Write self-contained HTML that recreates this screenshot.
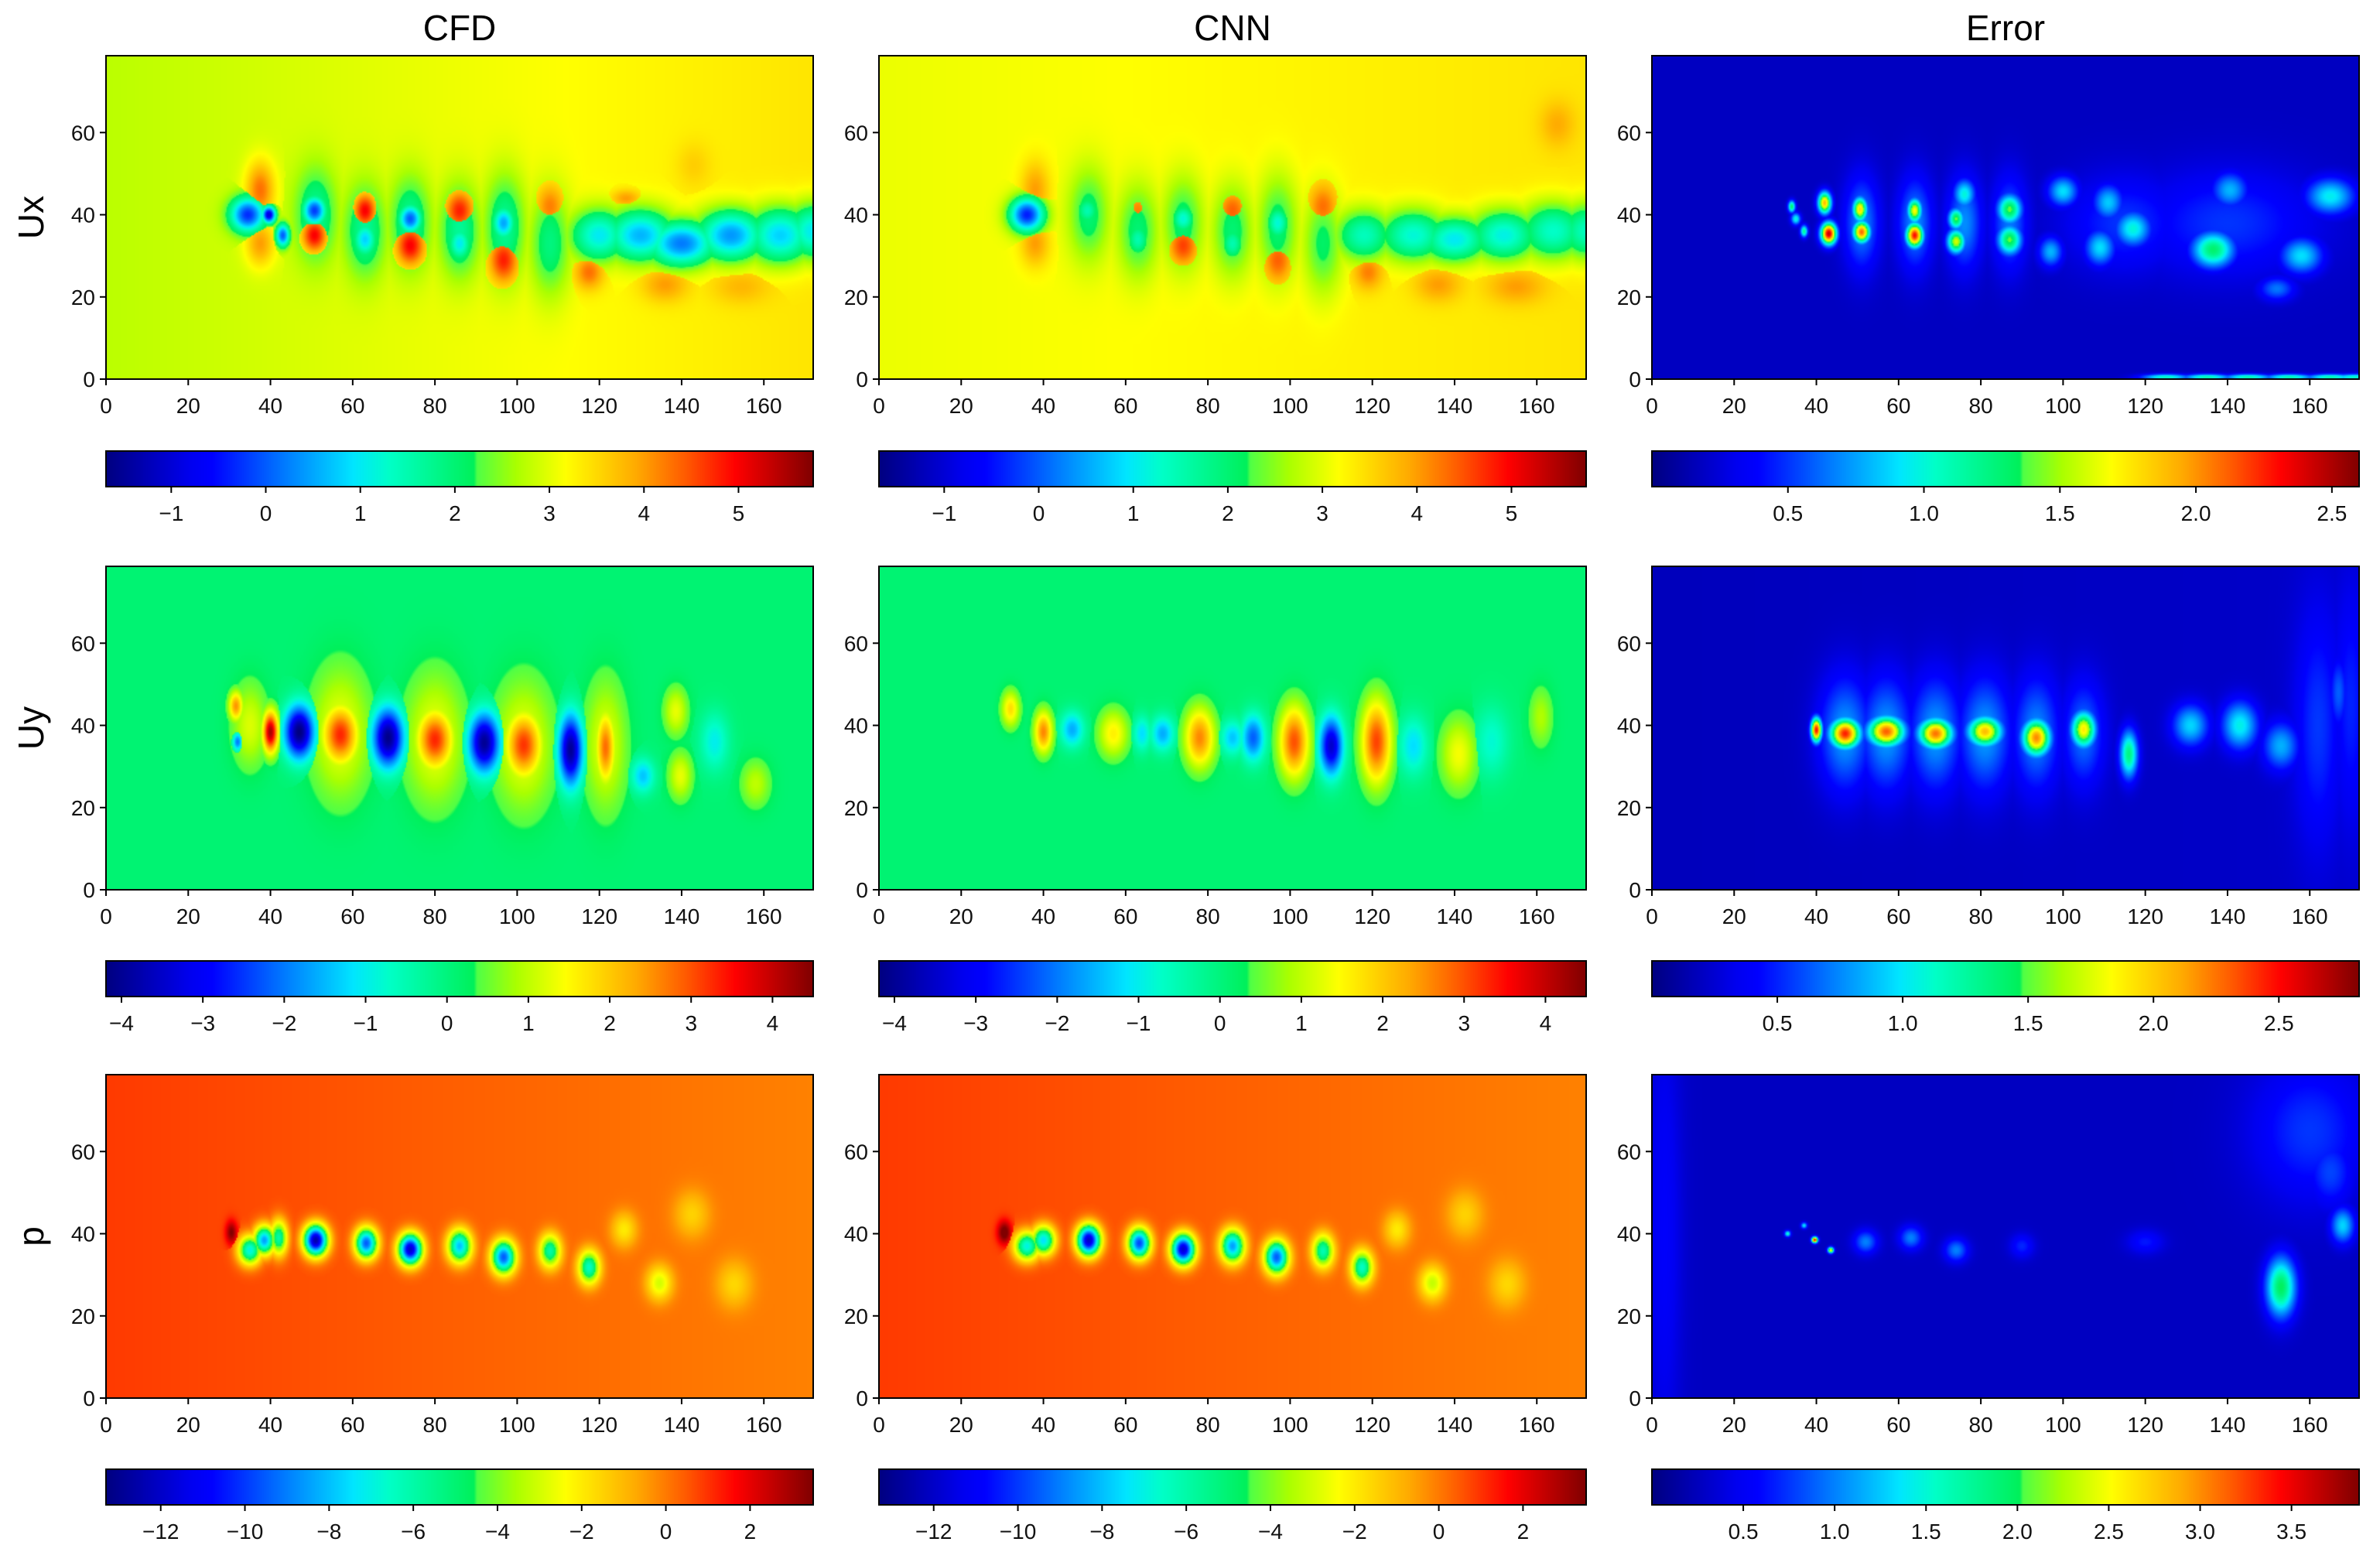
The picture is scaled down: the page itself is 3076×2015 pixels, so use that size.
<!DOCTYPE html>
<html><head><meta charset="utf-8"><style>
html,body{margin:0;padding:0;background:#fff;}
#fig{position:relative;width:3076px;height:2015px;overflow:hidden;background:#fff;font-family:"Liberation Sans",sans-serif;}
canvas{position:absolute;}
svg{position:absolute;left:0;top:0;}
</style></head><body>
<div id="fig">
<svg id="ov" width="3076" height="2015" viewBox="0 0 3076 2015"></svg>
</div>
<script>
// ---- domain ----
const XMAX = 172, YMAX = 78.7;
const xTicks = [0,20,40,60,80,100,120,140,160];
const yTicks = [0,20,40,60];
const colTitles = ["CFD","CNN","Error"];
const rowTitles = ["Ux","Uy","p"];
const uxRange = [-1.69, 5.79], uyRange = [-4.19, 4.5], pRange = [-13.3, 3.5];
const uxErrRange = [0, 2.6], uyErrRange = [0, 2.82], pErrRange = [0, 3.87];
const uxTicks = [-1,0,1,2,3,4,5], uyTicks = [-4,-3,-2,-1,0,1,2,3,4], pTicks = [-12,-10,-8,-6,-4,-2,0,2];
const uxErrTicks = [0.5,1.0,1.5,2.0,2.5], uyErrTicks = [0.5,1.0,1.5,2.0,2.5], pErrTicks = [0.5,1.0,1.5,2.0,2.5,3.0,3.5];

// ---- field data ----
const uxCfdBg = [2.75, 3.4];
const uxCfdX = [51,63,74,86,97,108, 34.5,37.5,37.5,39.6,43,50.7,50.7,63,63,74,74,86,86,96.7,96.7,108,117.5,126.5,136,154.5,143, 120,130,140,152,164,172];
const uxCfdY = [40,36,38,36,37,33, 40,46,33,40,35,41,35,41,34,39,32.5,41,33,38,29,42,26,44,23,22.5,52, 35,35,33,35,35,36];
const uxCfdV = [1.7,1.7,1.7,1.7,1.7,1.9, -0.3,4.3,4.0,-1,0,-0.2,5,5,0.8,0,5,4.8,1,0.5,4.8,4.2,4.3,4,4,3.8,3.6, 1.0,0.6,0.2,0.4,0.8,1.0];
const uxCfdSX = [3.5,3.5,3.5,3.5,3.5,3.5, 3,2.5,2.5,1.2,1.2,2,2.2,2,2,2,2.5,2.5,2,2,2.5,2.5,2.5,2.5,4,5,3, 5,6,6,6,6,5];
const uxCfdSY = [8,8,8,8,9,9, 3,5,4,1.5,2,2.5,3,3,3,2.5,3.5,3.5,3,3,4,4,3,1.5,3,3,4, 4.5,4.5,4,4.5,5,5];

const uxCnnBg = [3.05, 3.4];
const uxCnnX = [51,63,74,86,97,108, 36,38,38,50.7,50.7,63,63,74,74,86,86,97,97,108,119,136,155,165, 118,130,140,152,164,172];
const uxCnnY = [40,36,38,36,37,33, 40,46,33,41,35,41,34,39,32.5,41,33,38,29,42,26,23,22.5,62, 35,35,34,35,36,36];
const uxCnnV = [2.0,2.0,2.0,2.0,2.0,2.1, -0.4,4.0,4.0,1.5,3.5,4.2,1.5,1.2,4.6,4.4,1.5,1.2,4.4,4.3,4.2,4.0,4.0,3.9, 1.4,1.2,1.0,1.1,1.3,1.4];
const uxCnnSX = [3.5,3.5,3.5,3.5,3.5,3.5, 3,2.5,2.5,2,2.2,2,2,2,2.5,2.5,2,2,2.5,2.5,2.5,4,5,3, 5,6,6,6,6,5];
const uxCnnSY = [8,8,8,8,9,9, 3,5,4,2.5,3,3,3,2.5,3.5,3.5,3,3,4,4,3,3,3,4, 4.5,4.5,4,4.5,5,5];

const uyCfdBg = [0.1, 0.1];
const uyCfdX = [40,31.6,32,47,57,68.6,80,92,101.6,113,121.5,130.6,138.6,139.7,148,158, 57,80,101.6,121.5,35];
const uyCfdY = [38.4,44.7,36,38.4,37.7,37,36.5,35.8,35.2,34,34.6,27.7,43.4,27.7,36,25.8, 38,36.5,35,35,40];
const uyCfdV = [4.2,2.5,-2,-4.2,3.3,-4.1,3.3,-4,3.2,-4,2.8,-1.4,1.3,1.3,-1.0,1.0, 1.4,1.4,1.4,1.3,1.2];
const uyCfdSX = [1.3,1.2,0.8,2.5,3,2.6,3,2.6,3,2,1.6,2,2,2,2.5,2.5, 5,5,5,3.5,3];
const uyCfdSY = [3.5,2.5,1.5,4.5,5,5,5,5,5.5,6,6,3,4,4,5,4, 11,11,11,11,7];

const uyCnnBg = [0.1, 0.1];
const uyCnnX = [40,32,47,57,64,69,78,86,91,101,110,121,130,141,161,149];
const uyCnnY = [38.4,44,39,38,38,38,37,37,37,36,35,36,35,33,42,36];
const uyCnnV = [2.6,1.8,-1.6,1.6,-1.2,-1.6,2.6,-1.4,-2.2,3.0,-3.5,3.1,-1.2,1.4,0.9,-0.8];
const uyCnnSX = [1.5,1.5,2,2.5,1.5,2,2.5,2,2,2.5,2,2.5,2.5,3,2,3];
const uyCnnSY = [3.5,3,3,4,3,3,5,3,4,6,5,7,5,6,5,6];

const pCfdBg = [0.9, -0.1];
const pCfdX = [30.5,35,38.5,42,51,63.3,74,86,96.7,108,117.5,134.6,126,142.5,152.8];
const pCfdY = [40.3,36,38.4,39,38.4,37.7,36.2,37,34.3,35.8,31.8,28,41,44.7,27.7];
const pCfdV = [3.5,-7,-8.5,-6,-12.5,-9.5,-12,-8,-9.5,-6,-6.5,-3,-2,-1.5,-1.6];
const pCfdSX = [1,2,1.8,1.5,2,1.9,2,2,2,1.8,1.8,2.2,2.2,3,3];
const pCfdSY = [2,2.5,2.5,3,2.6,2.6,2.6,2.8,2.8,2.8,2.8,3,3,4,4];

const pCnnBg = [0.9, -0.1];
const pCnnX = [30.5,36,40,51,63.3,74,86,96.7,108,117.5,134.6,126,142.5,152.8];
const pCnnY = [40.3,37,38.4,38.4,37.7,36.2,37,34.3,35.8,31.8,28,41,44.7,27.7];
const pCnnV = [4.0,-7,-7.5,-12,-9.8,-11.8,-8.5,-9.5,-6.2,-6.5,-3.2,-2,-1.5,-1.6];
const pCnnSX = [1.2,2.2,2,2,1.9,2,2,2,1.8,1.8,2.2,2.2,3,3];
const pCnnSY = [2,2.5,2.5,2.6,2.6,2.6,2.8,2.8,2.8,2.8,3,3,4,4];

const uxErrBg = [0.18, 0.18];
const uxErrX = [43,42,51,50.6,63.9,63.9,74,76,74,87,87,100,111,117,109,136.5,140.6,165,158,97,152, 51,64,76,87, 125,135,145,155,165,171, 34,37,35, 115,140];
const uxErrY = [35.4,42.9,35.8,41.3,35,41,33.5,45,39,41.3,33.9,45.7,43,36.6,32,31.5,46,44.5,30,31,22, 38,38,38,38, 0.5,0.5,0.5,0.5,0.5,0.5, 42,36,39, 38,38];
const uxErrV = [2.45,1.9,2.1,1.8,2.3,1.7,1.6,1.0,1.4,1.4,1.4,0.9,0.85,1.0,0.9,1.3,0.8,0.95,0.9,0.8,0.65, 0.7,0.7,0.7,0.65, 1.1,1.15,1.15,1.15,1.15,1.1, 1.3,1.2,1.0, 0.5,0.5];
const uxErrSX = [1.3,1.1,1.4,1.2,1.4,1.2,1.5,1.8,1.3,2,2,2.5,2.5,3,2.5,3.5,3,4,3.5,2,3, 3,3,3,3, 4,4,4,4,4,4, 0.6,0.6,0.8, 10,15];
const uxErrSY = [1.8,1.8,1.8,2,2,2,2,2.5,1.8,2.5,2.5,2.5,3,3,3,3,3,3,3,2.5,2, 8,8,8,8, 0.5,0.5,0.5,0.5,0.5,0.5, 1,1,1, 8,9];

const uyErrBg = [0.18, 0.22];
const uyErrX = [40,47,57,69,81,93.5,105,116,131,143,153,167, 47,57,69,81,93.5,105, 162,170];
const uyErrY = [38.9,38,38.5,38,38.5,37,39,33,40,40,35,48, 38,38,38,38,38,38, 40,45];
const uyErrV = [2.5,2.45,2.3,2.25,2.05,2.2,1.9,1.35,0.95,1.05,0.85,0.65, 0.8,0.8,0.8,0.8,0.75,0.7, 0.55,0.5];
const uyErrSX = [0.9,2.5,3,2.8,2.8,2.3,2,1.5,3,3,3,1.5, 4.5,4.5,4.5,4.5,4,3.5, 4,3];
const uyErrSY = [2,2.5,2.5,2.5,2.5,3,3,4,3.5,4,4,6, 10,10,10,10,10,9, 20,20];

const pErrBg = [0.27, 0.27];
const pErrX = [39.6,43.5,33,37,52,63,74,153,168,160,165,3, 90,120];
const pErrY = [38.5,36,40,42,38,39,36,27,42,65,55,40, 37,38];
const pErrV = [3.6,2.6,1.6,1.4,1.0,1.0,1.0,2.0,1.3,0.75,0.8,0.55, 0.7,0.65];
const pErrSX = [0.5,0.5,0.5,0.5,2,2,2,2.5,2,10,4,3, 2,3];
const pErrSY = [0.5,0.5,0.5,0.5,2,2,2,5,3,12,6,40, 2,2];

// ---- layout (px) ----
const colX = [137, 1136, 2135];
const PW = 914, PH = 418;
const rowY = [72, 732, 1389];
const cbY = [583, 1242, 1899];
const CBH = 46;

const CMAP = [
  [0,0,0,128],[0.12,0,0,240],[0.15,0,0,255],[0.25,0,120,255],[0.35,0,230,255],
  [0.40,0,255,200],[0.52,0,240,90],[0.525,80,255,70],[0.58,170,255,0],[0.65,255,255,0],
  [0.75,255,170,0],[0.82,255,90,0],[0.89,255,0,0],[1,128,0,0]
];
function jet(t){
  t = Math.max(0, Math.min(1, t));
  for (let i=0;i<CMAP.length-1;i++){
    const a=CMAP[i], b=CMAP[i+1];
    if (t>=a[0] && t<=b[0]){
      const f=(t-a[0])/(b[0]-a[0]);
      return [a[1]+(b[1]-a[1])*f, a[2]+(b[2]-a[2])*f, a[3]+(b[3]-a[3])*f];
    }
  }
  return [128,0,0];
}

const fig = document.getElementById('fig');
const ov = document.getElementById('ov');
const NS = 'http://www.w3.org/2000/svg';

function drawField(col,row,name,bg,range,X,Y,V,SX,SY){
  const c = document.createElement('canvas');
  
  
  const W = 516, H = 236;
  c.width = W; c.height = H;
  c.style.left = colX[col]+'px'; c.style.top = rowY[row]+'px';
  c.style.width = PW+'px'; c.style.height = PH+'px';
  const ctx = c.getContext('2d');
  const img = ctx.createImageData(W,H);
  for (let j=0;j<H;j++){
    const y = YMAX - (j+0.5)/H*YMAX;
    for (let i=0;i<W;i++){
      const x = (i+0.5)/W*XMAX;
      const base = bg[0] + (bg[1]-bg[0])*x/XMAX;
      let best = 0;
      for (let k=0;k<X.length;k++){
        const dx=(x-X[k])/SX[k], dy=(y-Y[k])/SY[k];
        const e = dx*dx+dy*dy;
        if (e>12) continue;
        const d = (V[k]-base)*Math.exp(-0.5*e);
        if (Math.abs(d)>Math.abs(best)) best=d;
      }
      const v = base+best;
      const rgb = jet((v-range[0])/(range[1]-range[0]));
      const p=(j*W+i)*4;
      img.data[p]=rgb[0];img.data[p+1]=rgb[1];img.data[p+2]=rgb[2];img.data[p+3]=255;
    }
  }
  ctx.putImageData(img,0,0);
  fig.insertBefore(c, ov);
}

function drawColorbar(col,row,name){
  const c = document.createElement('canvas');
  
  
  c.width = 914; c.height = 4;
  c.style.left = colX[col]+'px'; c.style.top = cbY[row]+'px';
  c.style.width = PW+'px'; c.style.height = CBH+'px';
  const ctx = c.getContext('2d');
  for (let i=0;i<914;i++){
    const rgb = jet((i+0.5)/914);
    ctx.fillStyle = 'rgb('+rgb.map(Math.round).join(',')+')';
    ctx.fillRect(i,0,1,4);
  }
  fig.insertBefore(c, ov);
}

function el(tag, attrs, text){
  const e = document.createElementNS(NS, tag);
  for (const k in attrs) e.setAttribute(k, attrs[k]);
  if (text !== undefined) e.textContent = text;
  ov.appendChild(e);
  return e;
}
function fmt(v, dec){ return (v<0 ? '\u2212' : '') + (dec ? Math.abs(v).toFixed(1) : String(Math.abs(v))); }

function drawAxes(col,row){
  const x0 = colX[col], y0 = rowY[row];
  const sx = v => x0 + v/XMAX*PW;
  const sy = v => y0 + PH - v/YMAX*PH;
  const f = el('rect',{x:x0,y:y0,width:PW,height:PH,fill:'none',stroke:'#000','stroke-width':2});
  
  
  xTicks.forEach(t=>{
    const l = el('line',{x1:sx(t),x2:sx(t),y1:y0+PH,y2:y0+PH+8,stroke:'#000','stroke-width':2});
    
    
    const tx = el('text',{x:sx(t),y:y0+PH+44,'font-size':28,'text-anchor':'middle',fill:'#111'},String(t));
    
    
  });
  yTicks.forEach(t=>{
    const l = el('line',{x1:x0-8,x2:x0,y1:sy(t),y2:sy(t),stroke:'#000','stroke-width':2});
    
    
    const tx = el('text',{x:x0-14,y:sy(t)+10,'font-size':28,'text-anchor':'end',fill:'#111'},String(t));
    
    
  });
}

function drawCbAxis(col,row,range,ticks,dec){
  const x0 = colX[col], y0 = cbY[row];
  const s = v => x0 + (v-range[0])/(range[1]-range[0])*PW;
  const f = el('rect',{x:x0,y:y0,width:PW,height:CBH,fill:'none',stroke:'#000','stroke-width':2});
  
  
  ticks.forEach(t=>{
    const l = el('line',{x1:s(t),x2:s(t),y1:y0+CBH,y2:y0+CBH+8,stroke:'#000','stroke-width':2});
    
    
    const tx = el('text',{x:s(t),y:y0+CBH+44,'font-size':28,'text-anchor':'middle',fill:'#111'},fmt(t,dec));
    
    
  });
}

const fields = [
  [0,0,'ux-cfd-heatmap',uxCfdBg,uxRange,uxCfdX,uxCfdY,uxCfdV,uxCfdSX,uxCfdSY],
  [1,0,'ux-cnn-heatmap',uxCnnBg,uxRange,uxCnnX,uxCnnY,uxCnnV,uxCnnSX,uxCnnSY],
  [2,0,'ux-error-heatmap',uxErrBg,uxErrRange,uxErrX,uxErrY,uxErrV,uxErrSX,uxErrSY],
  [0,1,'uy-cfd-heatmap',uyCfdBg,uyRange,uyCfdX,uyCfdY,uyCfdV,uyCfdSX,uyCfdSY],
  [1,1,'uy-cnn-heatmap',uyCnnBg,uyRange,uyCnnX,uyCnnY,uyCnnV,uyCnnSX,uyCnnSY],
  [2,1,'uy-error-heatmap',uyErrBg,uyErrRange,uyErrX,uyErrY,uyErrV,uyErrSX,uyErrSY],
  [0,2,'p-cfd-heatmap',pCfdBg,pRange,pCfdX,pCfdY,pCfdV,pCfdSX,pCfdSY],
  [1,2,'p-cnn-heatmap',pCnnBg,pRange,pCnnX,pCnnY,pCnnV,pCnnSX,pCnnSY],
  [2,2,'p-error-heatmap',pErrBg,pErrRange,pErrX,pErrY,pErrV,pErrSX,pErrSY]
];
fields.forEach(a=>{ drawField(...a); drawAxes(a[0],a[1]); });

const cbs = [
  [0,0,uxRange,uxTicks,false],[1,0,uxRange,uxTicks,false],[2,0,uxErrRange,uxErrTicks,true],
  [0,1,uyRange,uyTicks,false],[1,1,uyRange,uyTicks,false],[2,1,uyErrRange,uyErrTicks,true],
  [0,2,pRange,pTicks,false],[1,2,pRange,pTicks,false],[2,2,pErrRange,pErrTicks,true]
];
cbs.forEach(a=>{ drawColorbar(a[0],a[1],'colorbar'); drawCbAxis(...a); });

colTitles.forEach((t,i)=>{
  const tx = el('text',{x:colX[i]+PW/2,y:52,'font-size':46,'text-anchor':'middle',fill:'#000'},t);
  
  
});
rowTitles.forEach((t,i)=>{
  const cy = rowY[i]+PH/2;
  const tx = el('text',{x:56,y:cy,'font-size':46,'text-anchor':'middle',fill:'#000',transform:'rotate(-90 56 '+cy+')'},t);
  
  
});
</script>
</body></html>
